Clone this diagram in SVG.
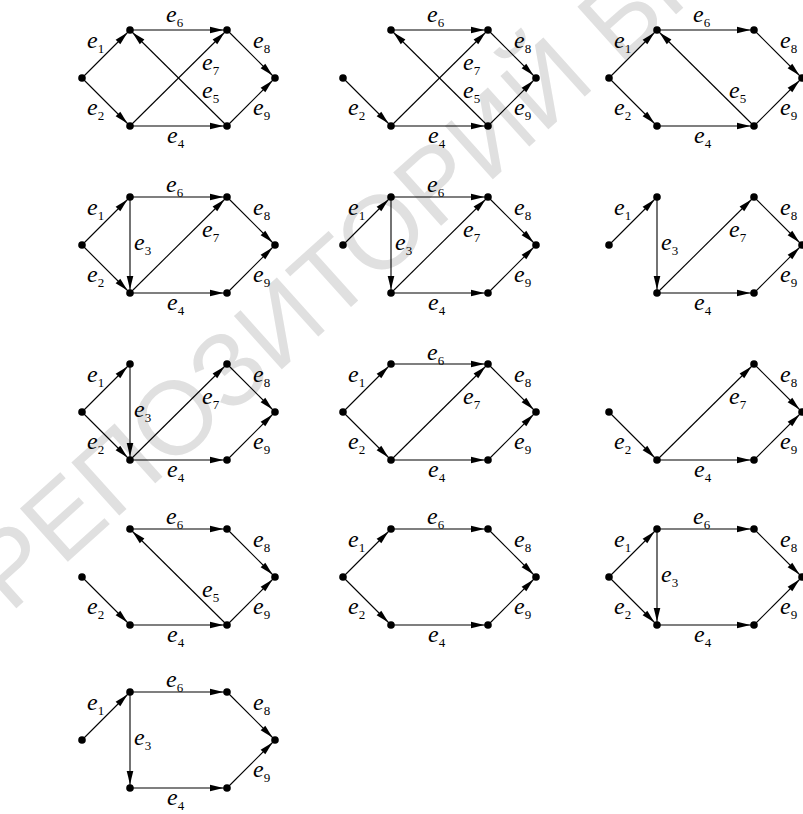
<svg xmlns="http://www.w3.org/2000/svg" width="803" height="814" viewBox="0 0 803 814">
<style>
.c{stroke:#000;stroke-width:1.1;fill:none;marker-end:url(#ah)}
.n circle{fill:#000}
.e{font-family:"Liberation Serif","Times New Roman",serif;font-style:italic;font-size:24px;fill:#000}
.s{font-style:normal;font-size:13px}
.wm{font-family:"Liberation Sans",Arial,sans-serif;font-size:104px;fill:#e0e0e0}
</style>
<defs>
<marker id="ah" markerUnits="userSpaceOnUse" markerWidth="20" markerHeight="10" refX="0" refY="0" orient="auto" overflow="visible">
<path d="M-17,-3.3 L-3.5,0 L-17,3.3 z" fill="#000"/>
</marker>
</defs>
<rect width="803" height="814" fill="#fff"/>
<text class="wm" x="10" y="614" transform="rotate(-42 10 614)">РЕПОЗИТОРИЙ БГ</text>

<!-- Graph 1 -->
<g id="graph1" transform="translate(82,78)">
<g id="graph1-edges">
<line class="c" x1="0" y1="0" x2="48" y2="-48"/>
<line class="c" x1="0" y1="0" x2="48" y2="48"/>
<line class="c" x1="48" y1="48" x2="145" y2="48"/>
<line class="c" x1="145" y1="48" x2="48" y2="-48"/>
<line class="c" x1="48" y1="-48" x2="145" y2="-48"/>
<line class="c" x1="48" y1="48" x2="145" y2="-48"/>
<line class="c" x1="145" y1="-48" x2="193" y2="0"/>
<line class="c" x1="145" y1="48" x2="193" y2="0"/>
</g>
<g id="graph1-L" class="n"><circle cx="0" cy="0" r="3.8"/></g>
<g id="graph1-TL" class="n"><circle cx="48" cy="-48" r="3.8"/></g>
<g id="graph1-BL" class="n"><circle cx="48" cy="48" r="3.8"/></g>
<g id="graph1-TR" class="n"><circle cx="145" cy="-48" r="3.8"/></g>
<g id="graph1-BR" class="n"><circle cx="145" cy="48" r="3.8"/></g>
<g id="graph1-R" class="n"><circle cx="193" cy="0" r="3.8"/></g>
<text class="e" x="5" y="-30">e<tspan class="s" dy="5">1</tspan></text>
<text class="e" x="5" y="37">e<tspan class="s" dy="5">2</tspan></text>
<text class="e" x="84" y="-56">e<tspan class="s" dy="5">6</tspan></text>
<text class="e" x="120" y="-8">e<tspan class="s" dy="5">7</tspan></text>
<text class="e" x="120" y="20">e<tspan class="s" dy="5">5</tspan></text>
<text class="e" x="171" y="-30">e<tspan class="s" dy="5">8</tspan></text>
<text class="e" x="171" y="37">e<tspan class="s" dy="5">9</tspan></text>
<text class="e" x="85" y="65">e<tspan class="s" dy="5">4</tspan></text>
</g>

<!-- Graph 2 -->
<g id="graph2" transform="translate(343,78)">
<g id="graph2-edges">
<line class="c" x1="0" y1="0" x2="48" y2="48"/>
<line class="c" x1="48" y1="48" x2="145" y2="48"/>
<line class="c" x1="145" y1="48" x2="48" y2="-48"/>
<line class="c" x1="48" y1="-48" x2="145" y2="-48"/>
<line class="c" x1="48" y1="48" x2="145" y2="-48"/>
<line class="c" x1="145" y1="-48" x2="193" y2="0"/>
<line class="c" x1="145" y1="48" x2="193" y2="0"/>
</g>
<g id="graph2-L" class="n"><circle cx="0" cy="0" r="3.8"/></g>
<g id="graph2-TL" class="n"><circle cx="48" cy="-48" r="3.8"/></g>
<g id="graph2-BL" class="n"><circle cx="48" cy="48" r="3.8"/></g>
<g id="graph2-TR" class="n"><circle cx="145" cy="-48" r="3.8"/></g>
<g id="graph2-BR" class="n"><circle cx="145" cy="48" r="3.8"/></g>
<g id="graph2-R" class="n"><circle cx="193" cy="0" r="3.8"/></g>
<text class="e" x="5" y="37">e<tspan class="s" dy="5">2</tspan></text>
<text class="e" x="84" y="-56">e<tspan class="s" dy="5">6</tspan></text>
<text class="e" x="120" y="-8">e<tspan class="s" dy="5">7</tspan></text>
<text class="e" x="120" y="20">e<tspan class="s" dy="5">5</tspan></text>
<text class="e" x="171" y="-30">e<tspan class="s" dy="5">8</tspan></text>
<text class="e" x="171" y="37">e<tspan class="s" dy="5">9</tspan></text>
<text class="e" x="85" y="65">e<tspan class="s" dy="5">4</tspan></text>
</g>

<!-- Graph 3 -->
<g id="graph3" transform="translate(609,78)">
<g id="graph3-edges">
<line class="c" x1="0" y1="0" x2="48" y2="-48"/>
<line class="c" x1="0" y1="0" x2="48" y2="48"/>
<line class="c" x1="48" y1="48" x2="145" y2="48"/>
<line class="c" x1="145" y1="48" x2="48" y2="-48"/>
<line class="c" x1="48" y1="-48" x2="145" y2="-48"/>
<line class="c" x1="145" y1="-48" x2="193" y2="0"/>
<line class="c" x1="145" y1="48" x2="193" y2="0"/>
</g>
<g id="graph3-L" class="n"><circle cx="0" cy="0" r="3.8"/></g>
<g id="graph3-TL" class="n"><circle cx="48" cy="-48" r="3.8"/></g>
<g id="graph3-BL" class="n"><circle cx="48" cy="48" r="3.8"/></g>
<g id="graph3-TR" class="n"><circle cx="145" cy="-48" r="3.8"/></g>
<g id="graph3-BR" class="n"><circle cx="145" cy="48" r="3.8"/></g>
<g id="graph3-R" class="n"><circle cx="193" cy="0" r="3.8"/></g>
<text class="e" x="5" y="-30">e<tspan class="s" dy="5">1</tspan></text>
<text class="e" x="5" y="37">e<tspan class="s" dy="5">2</tspan></text>
<text class="e" x="84" y="-56">e<tspan class="s" dy="5">6</tspan></text>
<text class="e" x="120" y="20">e<tspan class="s" dy="5">5</tspan></text>
<text class="e" x="171" y="-30">e<tspan class="s" dy="5">8</tspan></text>
<text class="e" x="171" y="37">e<tspan class="s" dy="5">9</tspan></text>
<text class="e" x="85" y="65">e<tspan class="s" dy="5">4</tspan></text>
</g>

<!-- Graph 4 -->
<g id="graph4" transform="translate(82,245)">
<g id="graph4-edges">
<line class="c" x1="0" y1="0" x2="48" y2="-48"/>
<line class="c" x1="0" y1="0" x2="48" y2="48"/>
<line class="c" x1="48" y1="-48" x2="48" y2="48"/>
<line class="c" x1="48" y1="48" x2="145" y2="48"/>
<line class="c" x1="48" y1="-48" x2="145" y2="-48"/>
<line class="c" x1="48" y1="48" x2="145" y2="-48"/>
<line class="c" x1="145" y1="-48" x2="193" y2="0"/>
<line class="c" x1="145" y1="48" x2="193" y2="0"/>
</g>
<g id="graph4-L" class="n"><circle cx="0" cy="0" r="3.8"/></g>
<g id="graph4-TL" class="n"><circle cx="48" cy="-48" r="3.8"/></g>
<g id="graph4-BL" class="n"><circle cx="48" cy="48" r="3.8"/></g>
<g id="graph4-TR" class="n"><circle cx="145" cy="-48" r="3.8"/></g>
<g id="graph4-BR" class="n"><circle cx="145" cy="48" r="3.8"/></g>
<g id="graph4-R" class="n"><circle cx="193" cy="0" r="3.8"/></g>
<text class="e" x="5" y="-30">e<tspan class="s" dy="5">1</tspan></text>
<text class="e" x="5" y="37">e<tspan class="s" dy="5">2</tspan></text>
<text class="e" x="52" y="5">e<tspan class="s" dy="5">3</tspan></text>
<text class="e" x="84" y="-53">e<tspan class="s" dy="5">6</tspan></text>
<text class="e" x="120" y="-8">e<tspan class="s" dy="5">7</tspan></text>
<text class="e" x="171" y="-30">e<tspan class="s" dy="5">8</tspan></text>
<text class="e" x="171" y="37">e<tspan class="s" dy="5">9</tspan></text>
<text class="e" x="85" y="65">e<tspan class="s" dy="5">4</tspan></text>
</g>

<!-- Graph 5 -->
<g id="graph5" transform="translate(343,245)">
<g id="graph5-edges">
<line class="c" x1="0" y1="0" x2="48" y2="-48"/>
<line class="c" x1="48" y1="-48" x2="48" y2="48"/>
<line class="c" x1="48" y1="48" x2="145" y2="48"/>
<line class="c" x1="48" y1="-48" x2="145" y2="-48"/>
<line class="c" x1="48" y1="48" x2="145" y2="-48"/>
<line class="c" x1="145" y1="-48" x2="193" y2="0"/>
<line class="c" x1="145" y1="48" x2="193" y2="0"/>
</g>
<g id="graph5-L" class="n"><circle cx="0" cy="0" r="3.8"/></g>
<g id="graph5-TL" class="n"><circle cx="48" cy="-48" r="3.8"/></g>
<g id="graph5-BL" class="n"><circle cx="48" cy="48" r="3.8"/></g>
<g id="graph5-TR" class="n"><circle cx="145" cy="-48" r="3.8"/></g>
<g id="graph5-BR" class="n"><circle cx="145" cy="48" r="3.8"/></g>
<g id="graph5-R" class="n"><circle cx="193" cy="0" r="3.8"/></g>
<text class="e" x="5" y="-30">e<tspan class="s" dy="5">1</tspan></text>
<text class="e" x="52" y="5">e<tspan class="s" dy="5">3</tspan></text>
<text class="e" x="84" y="-53">e<tspan class="s" dy="5">6</tspan></text>
<text class="e" x="120" y="-8">e<tspan class="s" dy="5">7</tspan></text>
<text class="e" x="171" y="-30">e<tspan class="s" dy="5">8</tspan></text>
<text class="e" x="171" y="37">e<tspan class="s" dy="5">9</tspan></text>
<text class="e" x="85" y="65">e<tspan class="s" dy="5">4</tspan></text>
</g>

<!-- Graph 6 -->
<g id="graph6" transform="translate(609,245)">
<g id="graph6-edges">
<line class="c" x1="0" y1="0" x2="48" y2="-48"/>
<line class="c" x1="48" y1="-48" x2="48" y2="48"/>
<line class="c" x1="48" y1="48" x2="145" y2="48"/>
<line class="c" x1="48" y1="48" x2="145" y2="-48"/>
<line class="c" x1="145" y1="-48" x2="193" y2="0"/>
<line class="c" x1="145" y1="48" x2="193" y2="0"/>
</g>
<g id="graph6-L" class="n"><circle cx="0" cy="0" r="3.8"/></g>
<g id="graph6-TL" class="n"><circle cx="48" cy="-48" r="3.8"/></g>
<g id="graph6-BL" class="n"><circle cx="48" cy="48" r="3.8"/></g>
<g id="graph6-TR" class="n"><circle cx="145" cy="-48" r="3.8"/></g>
<g id="graph6-BR" class="n"><circle cx="145" cy="48" r="3.8"/></g>
<g id="graph6-R" class="n"><circle cx="193" cy="0" r="3.8"/></g>
<text class="e" x="5" y="-30">e<tspan class="s" dy="5">1</tspan></text>
<text class="e" x="52" y="5">e<tspan class="s" dy="5">3</tspan></text>
<text class="e" x="120" y="-8">e<tspan class="s" dy="5">7</tspan></text>
<text class="e" x="171" y="-30">e<tspan class="s" dy="5">8</tspan></text>
<text class="e" x="171" y="37">e<tspan class="s" dy="5">9</tspan></text>
<text class="e" x="85" y="65">e<tspan class="s" dy="5">4</tspan></text>
</g>

<!-- Graph 7 -->
<g id="graph7" transform="translate(82,412)">
<g id="graph7-edges">
<line class="c" x1="0" y1="0" x2="48" y2="-48"/>
<line class="c" x1="0" y1="0" x2="48" y2="48"/>
<line class="c" x1="48" y1="-48" x2="48" y2="48"/>
<line class="c" x1="48" y1="48" x2="145" y2="48"/>
<line class="c" x1="48" y1="48" x2="145" y2="-48"/>
<line class="c" x1="145" y1="-48" x2="193" y2="0"/>
<line class="c" x1="145" y1="48" x2="193" y2="0"/>
</g>
<g id="graph7-L" class="n"><circle cx="0" cy="0" r="3.8"/></g>
<g id="graph7-TL" class="n"><circle cx="48" cy="-48" r="3.8"/></g>
<g id="graph7-BL" class="n"><circle cx="48" cy="48" r="3.8"/></g>
<g id="graph7-TR" class="n"><circle cx="145" cy="-48" r="3.8"/></g>
<g id="graph7-BR" class="n"><circle cx="145" cy="48" r="3.8"/></g>
<g id="graph7-R" class="n"><circle cx="193" cy="0" r="3.8"/></g>
<text class="e" x="5" y="-30">e<tspan class="s" dy="5">1</tspan></text>
<text class="e" x="5" y="37">e<tspan class="s" dy="5">2</tspan></text>
<text class="e" x="52" y="5">e<tspan class="s" dy="5">3</tspan></text>
<text class="e" x="120" y="-8">e<tspan class="s" dy="5">7</tspan></text>
<text class="e" x="171" y="-30">e<tspan class="s" dy="5">8</tspan></text>
<text class="e" x="171" y="37">e<tspan class="s" dy="5">9</tspan></text>
<text class="e" x="85" y="65">e<tspan class="s" dy="5">4</tspan></text>
</g>

<!-- Graph 8 -->
<g id="graph8" transform="translate(343,412)">
<g id="graph8-edges">
<line class="c" x1="0" y1="0" x2="48" y2="-48"/>
<line class="c" x1="0" y1="0" x2="48" y2="48"/>
<line class="c" x1="48" y1="48" x2="145" y2="48"/>
<line class="c" x1="48" y1="-48" x2="145" y2="-48"/>
<line class="c" x1="48" y1="48" x2="145" y2="-48"/>
<line class="c" x1="145" y1="-48" x2="193" y2="0"/>
<line class="c" x1="145" y1="48" x2="193" y2="0"/>
</g>
<g id="graph8-L" class="n"><circle cx="0" cy="0" r="3.8"/></g>
<g id="graph8-TL" class="n"><circle cx="48" cy="-48" r="3.8"/></g>
<g id="graph8-BL" class="n"><circle cx="48" cy="48" r="3.8"/></g>
<g id="graph8-TR" class="n"><circle cx="145" cy="-48" r="3.8"/></g>
<g id="graph8-BR" class="n"><circle cx="145" cy="48" r="3.8"/></g>
<g id="graph8-R" class="n"><circle cx="193" cy="0" r="3.8"/></g>
<text class="e" x="5" y="-30">e<tspan class="s" dy="5">1</tspan></text>
<text class="e" x="5" y="37">e<tspan class="s" dy="5">2</tspan></text>
<text class="e" x="84" y="-52">e<tspan class="s" dy="5">6</tspan></text>
<text class="e" x="120" y="-8">e<tspan class="s" dy="5">7</tspan></text>
<text class="e" x="171" y="-30">e<tspan class="s" dy="5">8</tspan></text>
<text class="e" x="171" y="37">e<tspan class="s" dy="5">9</tspan></text>
<text class="e" x="85" y="65">e<tspan class="s" dy="5">4</tspan></text>
</g>

<!-- Graph 9 -->
<g id="graph9" transform="translate(609,412)">
<g id="graph9-edges">
<line class="c" x1="0" y1="0" x2="48" y2="48"/>
<line class="c" x1="48" y1="48" x2="145" y2="48"/>
<line class="c" x1="48" y1="48" x2="145" y2="-48"/>
<line class="c" x1="145" y1="-48" x2="193" y2="0"/>
<line class="c" x1="145" y1="48" x2="193" y2="0"/>
</g>
<g id="graph9-L" class="n"><circle cx="0" cy="0" r="3.8"/></g>
<g id="graph9-BL" class="n"><circle cx="48" cy="48" r="3.8"/></g>
<g id="graph9-TR" class="n"><circle cx="145" cy="-48" r="3.8"/></g>
<g id="graph9-BR" class="n"><circle cx="145" cy="48" r="3.8"/></g>
<g id="graph9-R" class="n"><circle cx="193" cy="0" r="3.8"/></g>
<text class="e" x="5" y="37">e<tspan class="s" dy="5">2</tspan></text>
<text class="e" x="120" y="-8">e<tspan class="s" dy="5">7</tspan></text>
<text class="e" x="171" y="-30">e<tspan class="s" dy="5">8</tspan></text>
<text class="e" x="171" y="37">e<tspan class="s" dy="5">9</tspan></text>
<text class="e" x="85" y="65">e<tspan class="s" dy="5">4</tspan></text>
</g>

<!-- Graph 10 -->
<g id="graph10" transform="translate(82,577)">
<g id="graph10-edges">
<line class="c" x1="0" y1="0" x2="48" y2="48"/>
<line class="c" x1="48" y1="48" x2="145" y2="48"/>
<line class="c" x1="145" y1="48" x2="48" y2="-48"/>
<line class="c" x1="48" y1="-48" x2="145" y2="-48"/>
<line class="c" x1="145" y1="-48" x2="193" y2="0"/>
<line class="c" x1="145" y1="48" x2="193" y2="0"/>
</g>
<g id="graph10-L" class="n"><circle cx="0" cy="0" r="3.8"/></g>
<g id="graph10-TL" class="n"><circle cx="48" cy="-48" r="3.8"/></g>
<g id="graph10-BL" class="n"><circle cx="48" cy="48" r="3.8"/></g>
<g id="graph10-TR" class="n"><circle cx="145" cy="-48" r="3.8"/></g>
<g id="graph10-BR" class="n"><circle cx="145" cy="48" r="3.8"/></g>
<g id="graph10-R" class="n"><circle cx="193" cy="0" r="3.8"/></g>
<text class="e" x="5" y="37">e<tspan class="s" dy="5">2</tspan></text>
<text class="e" x="84" y="-53">e<tspan class="s" dy="5">6</tspan></text>
<text class="e" x="120" y="20">e<tspan class="s" dy="5">5</tspan></text>
<text class="e" x="171" y="-30">e<tspan class="s" dy="5">8</tspan></text>
<text class="e" x="171" y="37">e<tspan class="s" dy="5">9</tspan></text>
<text class="e" x="85" y="65">e<tspan class="s" dy="5">4</tspan></text>
</g>

<!-- Graph 11 -->
<g id="graph11" transform="translate(343,577)">
<g id="graph11-edges">
<line class="c" x1="0" y1="0" x2="48" y2="-48"/>
<line class="c" x1="0" y1="0" x2="48" y2="48"/>
<line class="c" x1="48" y1="48" x2="145" y2="48"/>
<line class="c" x1="48" y1="-48" x2="145" y2="-48"/>
<line class="c" x1="145" y1="-48" x2="193" y2="0"/>
<line class="c" x1="145" y1="48" x2="193" y2="0"/>
</g>
<g id="graph11-L" class="n"><circle cx="0" cy="0" r="3.8"/></g>
<g id="graph11-TL" class="n"><circle cx="48" cy="-48" r="3.8"/></g>
<g id="graph11-BL" class="n"><circle cx="48" cy="48" r="3.8"/></g>
<g id="graph11-TR" class="n"><circle cx="145" cy="-48" r="3.8"/></g>
<g id="graph11-BR" class="n"><circle cx="145" cy="48" r="3.8"/></g>
<g id="graph11-R" class="n"><circle cx="193" cy="0" r="3.8"/></g>
<text class="e" x="5" y="-30">e<tspan class="s" dy="5">1</tspan></text>
<text class="e" x="5" y="37">e<tspan class="s" dy="5">2</tspan></text>
<text class="e" x="84" y="-53">e<tspan class="s" dy="5">6</tspan></text>
<text class="e" x="171" y="-30">e<tspan class="s" dy="5">8</tspan></text>
<text class="e" x="171" y="37">e<tspan class="s" dy="5">9</tspan></text>
<text class="e" x="85" y="65">e<tspan class="s" dy="5">4</tspan></text>
</g>

<!-- Graph 12 -->
<g id="graph12" transform="translate(609,577)">
<g id="graph12-edges">
<line class="c" x1="0" y1="0" x2="48" y2="-48"/>
<line class="c" x1="0" y1="0" x2="48" y2="48"/>
<line class="c" x1="48" y1="-48" x2="48" y2="48"/>
<line class="c" x1="48" y1="48" x2="145" y2="48"/>
<line class="c" x1="48" y1="-48" x2="145" y2="-48"/>
<line class="c" x1="145" y1="-48" x2="193" y2="0"/>
<line class="c" x1="145" y1="48" x2="193" y2="0"/>
</g>
<g id="graph12-L" class="n"><circle cx="0" cy="0" r="3.8"/></g>
<g id="graph12-TL" class="n"><circle cx="48" cy="-48" r="3.8"/></g>
<g id="graph12-BL" class="n"><circle cx="48" cy="48" r="3.8"/></g>
<g id="graph12-TR" class="n"><circle cx="145" cy="-48" r="3.8"/></g>
<g id="graph12-BR" class="n"><circle cx="145" cy="48" r="3.8"/></g>
<g id="graph12-R" class="n"><circle cx="193" cy="0" r="3.8"/></g>
<text class="e" x="5" y="-30">e<tspan class="s" dy="5">1</tspan></text>
<text class="e" x="5" y="37">e<tspan class="s" dy="5">2</tspan></text>
<text class="e" x="52" y="5">e<tspan class="s" dy="5">3</tspan></text>
<text class="e" x="84" y="-53">e<tspan class="s" dy="5">6</tspan></text>
<text class="e" x="171" y="-30">e<tspan class="s" dy="5">8</tspan></text>
<text class="e" x="171" y="37">e<tspan class="s" dy="5">9</tspan></text>
<text class="e" x="85" y="65">e<tspan class="s" dy="5">4</tspan></text>
</g>

<!-- Graph 13 -->
<g id="graph13" transform="translate(82,740)">
<g id="graph13-edges">
<line class="c" x1="0" y1="0" x2="48" y2="-48"/>
<line class="c" x1="48" y1="-48" x2="48" y2="48"/>
<line class="c" x1="48" y1="48" x2="145" y2="48"/>
<line class="c" x1="48" y1="-48" x2="145" y2="-48"/>
<line class="c" x1="145" y1="-48" x2="193" y2="0"/>
<line class="c" x1="145" y1="48" x2="193" y2="0"/>
</g>
<g id="graph13-L" class="n"><circle cx="0" cy="0" r="3.8"/></g>
<g id="graph13-TL" class="n"><circle cx="48" cy="-48" r="3.8"/></g>
<g id="graph13-BL" class="n"><circle cx="48" cy="48" r="3.8"/></g>
<g id="graph13-TR" class="n"><circle cx="145" cy="-48" r="3.8"/></g>
<g id="graph13-BR" class="n"><circle cx="145" cy="48" r="3.8"/></g>
<g id="graph13-R" class="n"><circle cx="193" cy="0" r="3.8"/></g>
<text class="e" x="5" y="-30">e<tspan class="s" dy="5">1</tspan></text>
<text class="e" x="52" y="5">e<tspan class="s" dy="5">3</tspan></text>
<text class="e" x="84" y="-53">e<tspan class="s" dy="5">6</tspan></text>
<text class="e" x="171" y="-30">e<tspan class="s" dy="5">8</tspan></text>
<text class="e" x="171" y="37">e<tspan class="s" dy="5">9</tspan></text>
<text class="e" x="85" y="65">e<tspan class="s" dy="5">4</tspan></text>
</g>
</svg>
